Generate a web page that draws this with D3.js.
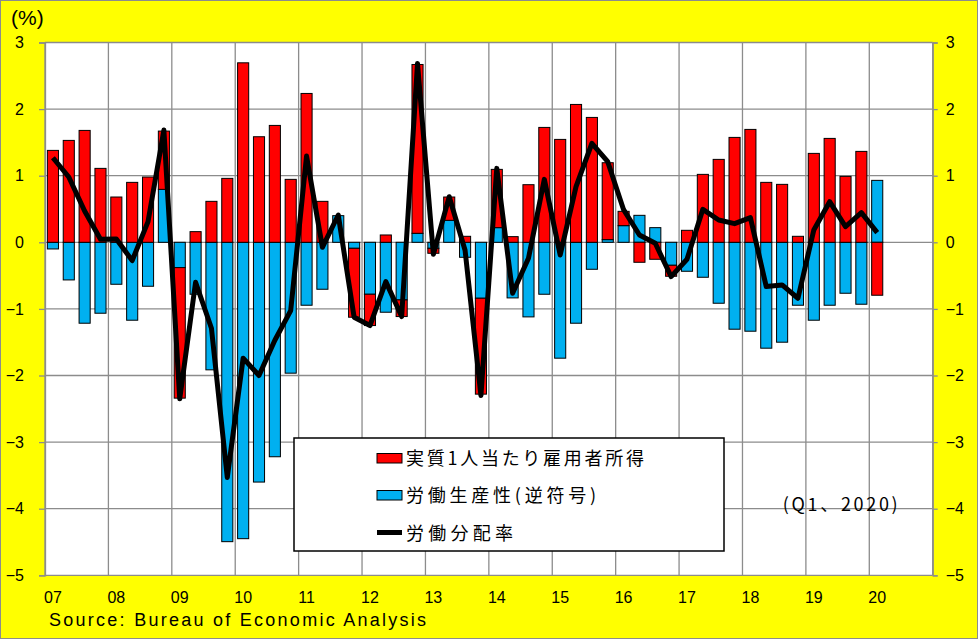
<!DOCTYPE html>
<html>
<head>
<meta charset="utf-8">
<script src="https://cdn.jsdelivr.net/npm/d3@7"></script>
<style>
  body { margin: 0; background: #fff; }
  svg { display: block; }
</style>
</head>
<body>
<svg id="chart"></svg>
<script>
// Data: 2007Q1 .. 2020Q1, % change
const compensation = [
  1.38, 1.53, 1.68, 1.11, 0.68, 0.9, 0.98, 0.875,
  -1.96, 0.16, 0.615, 0.96, 2.695, 1.585, 1.755, 0.945,
  2.235, 0.615, 0.0, -1.035, -0.47, 0.11, -0.25, 2.535,
  -0.075, 0.35, 0.09, -1.44, 0.875, 0.085, 0.865, 1.725,
  1.545, 2.07, 1.875, 1.155, 0.215, -0.3, -0.255, -0.165,
  0.18, 1.02, 1.245, 1.575, 1.695, 0.9, 0.87, 0.09,
  1.335, 1.56, 0.99, 1.365, -0.795
];
const productivityInv = [
  -0.1, -0.565, -1.215, -1.065, -0.63, -1.17, -0.66, 0.795,
  -0.38, -0.78, -1.915, -4.495, -4.45, -3.6, -3.22, -1.965,
  -0.945, -0.705, 0.4, -0.09, -0.78, -1.05, -0.865, 0.135,
  -0.09, 0.33, -0.225, -0.84, 0.22, -0.835, -1.12, -0.78,
  -1.74, -1.215, -0.405, 0.04, 0.25, 0.405, 0.22, -0.345,
  -0.435, -0.525, -0.915, -1.305, -1.335, -1.59, -1.5, -0.945,
  -1.17, -0.945, -0.765, -0.93, 0.93
];
const laborShare = [
  1.27, 0.98, 0.47, 0.045, 0.05, -0.275, 0.31, 1.685,
  -2.35, -0.6, -1.29, -3.53, -1.74, -2.0, -1.47, -1.025,
  1.295, -0.075, 0.41, -1.125, -1.25, -0.59, -1.115, 2.685,
  -0.18, 0.685, -0.12, -2.3, 1.11, -0.765, -0.24, 0.945,
  -0.19, 0.835, 1.485, 1.21, 0.49, 0.11, -0.015, -0.515,
  -0.255, 0.495, 0.335, 0.28, 0.37, -0.665, -0.64, -0.84,
  0.185, 0.61, 0.235, 0.445, 0.145
];
const yearLabels = ["07", "08", "09", "10", "11", "12", "13", "14", "15", "16", "17", "18", "19", "20"];
const yTicks = [-5, -4, -3, -2, -1, 0, 1, 2, 3];
const legendLabels = ["実質1人当たり雇用者所得", "労働生産性(逆符号)", "労働分配率"];

const W = 978, H = 639;
const margin = { top: 42.5, right: 45.3, bottom: 63.7, left: 45 };
const width = W - margin.left - margin.right;
const height = H - margin.top - margin.bottom;

const root = d3.select("#chart").attr("width", W).attr("height", H);

// yellow background with grey frame
root.append("rect")
  .attr("x", 0.5).attr("y", 0.5)
  .attr("width", W - 1).attr("height", H - 1)
  .attr("fill", "#ffff00")
  .attr("stroke", "#8c8c8c");

const svg = root.append("g").attr("transform", `translate(${margin.left},${margin.top})`);

// 14 years x 4 quarters of slots
const x = d3.scaleBand().domain(d3.range(yearLabels.length * 4)).range([0, width]).padding(0);
const y = d3.scaleLinear().domain([-5, 3]).range([height, 0]);
const barW = x.bandwidth() * 0.7;

svg.append("rect").attr("width", width).attr("height", height).attr("fill", "#fff");

// grid
svg.append("g").selectAll("line").data(yTicks).join("line")
  .attr("x1", 0).attr("x2", width)
  .attr("y1", d => y(d)).attr("y2", d => y(d))
  .attr("stroke", "#8c8c8c").attr("stroke-width", 1.3);
svg.append("g").selectAll("line").data(d3.range(0, yearLabels.length + 1)).join("line")
  .attr("x1", d => d * 4 * x.step()).attr("x2", d => d * 4 * x.step())
  .attr("y1", 0).attr("y2", height)
  .attr("stroke", "#8c8c8c").attr("stroke-width", 1.3);

// stacked bars (productivity nearest to zero)
const rows = compensation.map((c, i) => ({ i, prod: productivityInv[i], comp: c }));
const stack = d3.stack().keys(["prod", "comp"]).offset(d3.stackOffsetDiverging)(rows);
const colors = { prod: "#00b0f0", comp: "#ff0000" };

svg.append("g").selectAll("g").data(stack).join("g")
  .attr("fill", d => colors[d.key])
  .selectAll("rect").data(d => d.filter(s => s[1] !== s[0])).join("rect")
  .attr("x", d => x(d.data.i) + (x.bandwidth() - barW) / 2)
  .attr("width", barW)
  .attr("y", d => y(Math.max(d[0], d[1])))
  .attr("height", d => Math.abs(y(d[0]) - y(d[1])))
  .attr("stroke", "#000").attr("stroke-width", 1);

// labour share line
const line = d3.line()
  .x((d, i) => x(i) + x.bandwidth() / 2)
  .y(d => y(d));
svg.append("path").datum(laborShare)
  .attr("d", line)
  .attr("fill", "none")
  .attr("stroke", "#000")
  .attr("stroke-width", 5)
  .attr("stroke-linejoin", "round");

// axes
const fmt = d => (d < 0 ? "\u2212" + Math.abs(d) : String(d));
const leftAxis = svg.append("g")
  .call(d3.axisLeft(y).tickValues(yTicks).tickSize(6).tickPadding(15).tickFormat(fmt));
const rightAxis = svg.append("g").attr("transform", `translate(${width},0)`)
  .call(d3.axisRight(y).tickValues(yTicks).tickSize(5).tickPadding(8).tickFormat(fmt));
[leftAxis, rightAxis].forEach(a => {
  a.select(".domain").attr("stroke", "#8c8c8c").attr("stroke-width", 1.3);
  a.selectAll(".tick line").attr("stroke", "#8c8c8c").attr("stroke-width", 1.3);
  a.selectAll("text").attr("font-family", "Liberation Sans, Arial, sans-serif")
    .attr("font-size", 16).attr("fill", "#000");
});

svg.append("g").selectAll("text").data(yearLabels).join("text")
  .attr("x", (d, i) => x(i * 4) + x.bandwidth() / 2)
  .attr("y", height + 27.5)
  .attr("text-anchor", "middle")
  .attr("font-family", "Liberation Sans, Arial, sans-serif")
  .attr("font-size", 16)
  .text(d => d);

// legend
const legend = svg.append("g").attr("transform", `translate(${294 - margin.left},${438 - margin.top})`);
legend.append("rect").attr("width", 430).attr("height", 113)
  .attr("fill", "#fff").attr("stroke", "#000").attr("stroke-width", 1.5);
const legendY = [20.5, 57.5, 95];
const legendLen = [238, 190, 107];
legendLabels.forEach((lab, i) => {
  if (i < 2) {
    legend.append("rect").attr("x", 83).attr("y", legendY[i] - 5).attr("width", 25).attr("height", 9.5)
      .attr("fill", i === 0 ? colors.comp : colors.prod).attr("stroke", "#000").attr("stroke-width", 1);
  } else {
    legend.append("line").attr("x1", 83).attr("x2", 108).attr("y1", legendY[i] - 0.5).attr("y2", legendY[i] - 0.5)
      .attr("stroke", "#000").attr("stroke-width", 5);
  }
  legend.append("text")
    .attr("x", 112).attr("y", legendY[i] + 6.5)
    .attr("font-family", "Noto Sans CJK JP, sans-serif")
    .attr("font-size", 18)
    .attr("textLength", legendLen[i]).attr("lengthAdjust", "spacing")
    .text(lab);
});

// notes
svg.append("text")
  .attr("x", 782.7 - margin.left).attr("y", 511 - margin.top)
  .attr("font-family", "Noto Sans CJK JP, sans-serif")
  .attr("font-size", 18)
  .attr("textLength", 115).attr("lengthAdjust", "spacing")
  .text("(Q1、2020)");

root.append("text")
  .attr("x", 11).attr("y", 25)
  .attr("font-family", "Liberation Sans, Arial, sans-serif")
  .attr("font-size", 21)
  .text("(%)");

root.append("text")
  .attr("x", 49).attr("y", 626)
  .attr("font-family", "Liberation Sans, Arial, sans-serif")
  .attr("font-size", 18)
  .attr("textLength", 377).attr("lengthAdjust", "spacing")
  .text("Source: Bureau of Economic Analysis");
</script>
</body>
</html>
